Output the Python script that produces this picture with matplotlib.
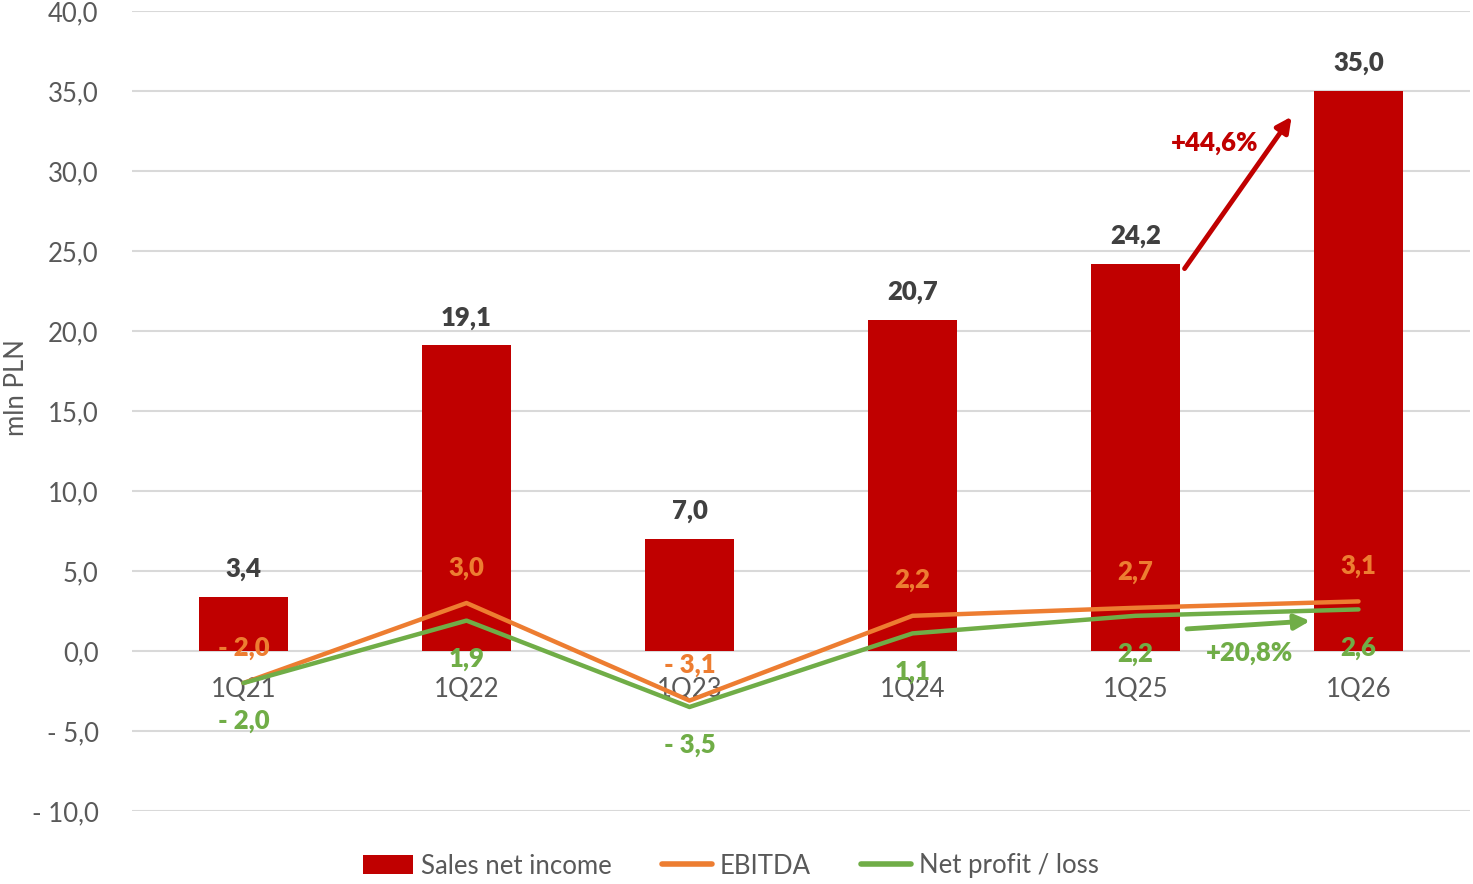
import matplotlib
matplotlib.use("Agg")
import matplotlib.pyplot as plt
from matplotlib.patches import Patch
from matplotlib.lines import Line2D

plt.rcParams['font.family'] = ['Lato', 'DejaVu Sans']

categories = ["1Q21", "1Q22", "1Q23", "1Q24", "1Q25", "1Q26"]
sales = [3.4, 19.1, 7.0, 20.7, 24.2, 35.0]
ebitda = [-2.0, 3.0, -3.1, 2.2, 2.7, 3.1]
net = [-2.0, 1.9, -3.5, 1.1, 2.2, 2.6]
yticks = [-10, -5, 0, 5, 10, 15, 20, 25, 30, 35, 40]
sales_growth = "+44,6%"
net_growth = "+20,8%"

RED = "#C00000"
ORANGE = "#ED7D31"
GREEN = "#70AD47"
GRAY = "#595959"
DARK = "#404040"
GRID = "#D9D9D9"
FS = 18.5
BW = 'heavy'


def fmt(v):
    s = f"{abs(v):.1f}".replace(".", ",")
    return ("- " + s) if v < 0 else s


W, H = 1473, 884
fig = plt.figure(figsize=(W / 100, H / 100), dpi=100)
ax = fig.add_axes([132 / W, 73 / H, (1470 - 132) / W, (873 - 73) / H])

x = list(range(len(categories)))
ax.set_xlim(-0.5, len(categories) - 0.5)
ax.set_ylim(-10, 40)
ax.set_yticks(yticks)
ax.set_yticklabels([fmt(v) for v in yticks], fontsize=FS, color=GRAY)
ax.tick_params(axis='y', length=0, pad=24)
ax.set_xticks([])
for s in ax.spines.values():
    s.set_visible(False)
ax.grid(axis='y', color=GRID, linewidth=1.5)
ax.set_axisbelow(True)

ax.bar(x, sales, width=0.4, color=RED, zorder=2)
ax.plot(x, ebitda, color=ORANGE, linewidth=3.2, zorder=4, solid_capstyle='round')
ax.plot(x, net, color=GREEN, linewidth=3.2, zorder=4, solid_capstyle='round')

for i, c in enumerate(categories):
    ax.annotate(c, (i, 0), xytext=(0, -27.5), textcoords='offset points',
                ha='center', va='center', fontsize=FS, color=GRAY, zorder=3)

for i, v in enumerate(sales):
    ax.annotate(fmt(v), (i, v), xytext=(0, 20), textcoords='offset points',
                ha='center', va='center', fontsize=FS, color=DARK,
                fontweight=BW, zorder=5)
for i, v in enumerate(ebitda):
    ax.annotate(fmt(v), (i, v), xytext=(0, 25.5), textcoords='offset points',
                ha='center', va='center', fontsize=FS, color=ORANGE,
                fontweight=BW, zorder=5)
for i, v in enumerate(net):
    ax.annotate(fmt(v), (i, v), xytext=(0, -27.5), textcoords='offset points',
                ha='center', va='center', fontsize=FS, color=GREEN,
                fontweight=BW, zorder=5)

# growth arrows
ax.annotate("", xy=(5 - 0.3, sales[5] - 1.6), xytext=(4 + 0.22, sales[4] - 0.3),
            arrowprops=dict(arrowstyle='-|>,head_length=0.9,head_width=0.45',
                            color=RED, lw=3.5, shrinkA=0, shrinkB=0), zorder=6)
ax.text(4.356, 31.75, sales_growth, ha='center', va='center', fontsize=FS,
        color=RED, fontweight=BW, zorder=6)
ax.annotate("", xy=(4.783, net[5] - 0.72), xytext=(4.231, net[4] - 0.82),
            arrowprops=dict(arrowstyle='-|>,head_length=0.9,head_width=0.45',
                            color=GREEN, lw=3.5, shrinkA=0, shrinkB=0), zorder=6)
ax.text(4.513, -0.125, net_growth, ha='center', va='center', fontsize=FS,
        color=GREEN, fontweight=BW, zorder=6)

fig.text(17 / W, 1 - 388 / H, "mln PLN", rotation=90, ha='center', va='center',
         fontsize=FS, color=GRAY)

handles = [
    Patch(facecolor=RED, edgecolor='none'),
    Line2D([], [], color=ORANGE, linewidth=4, solid_capstyle='round'),
    Line2D([], [], color=GREEN, linewidth=4, solid_capstyle='round'),
]
leg = fig.legend(handles, ["Sales net income", "EBITDA", "Net profit / loss"],
                 loc='center', bbox_to_anchor=(731 / W, 1 - 866 / H), ncol=3,
                 frameon=False, fontsize=FS, handlelength=1.95, handleheight=0.75,
                 handletextpad=0.3, columnspacing=1.95, labelcolor=GRAY)

fig.savefig("out.png", dpi=100)
